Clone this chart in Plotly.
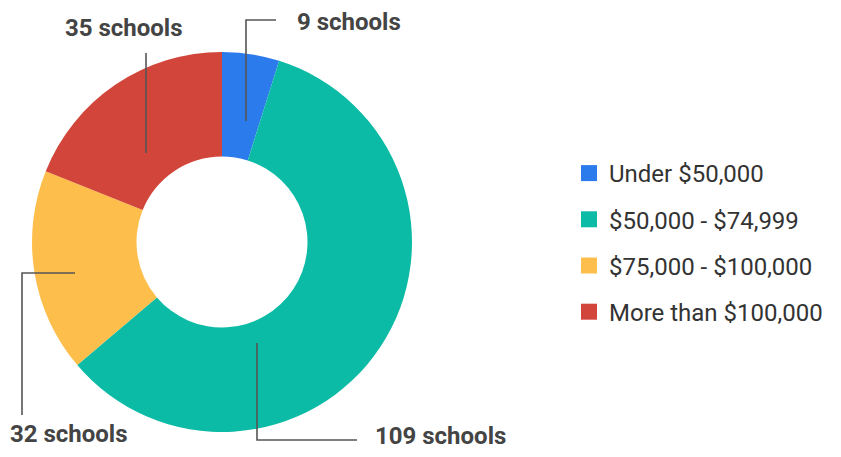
import plotly.graph_objects as go

# ---- data ----
categories = ["Under $50,000", "$50,000 - $74,999", "$75,000 - $100,000", "More than $100,000"]
school_counts = [9, 109, 32, 35]
label_texts = ["9 schools", "109 schools", "32 schools", "35 schools"]
colors = ["#2C7BEC", "#0CBBA5", "#FDBE4C", "#D1453B"]

# page has an 8px body margin; size the figure to fit the 841x457 window
OFF = 8
W, H = 841 - 2 * OFF, 457 - 2 * OFF


def px(x):
    """screen pixel x -> paper"""
    return (x - OFF) / W


def py(y):
    """screen pixel y -> paper"""
    return 1 - (y - OFF) / H


fig = go.Figure()

# donut
cx, cy, r = 222, 242, 190
fig.add_trace(go.Pie(
    labels=categories,
    values=school_counts,
    marker=dict(colors=colors, line=dict(width=0)),
    hole=0.45,
    sort=False,
    direction="clockwise",
    rotation=0,
    textinfo="none",
    showlegend=False,
    domain=dict(x=[px(cx - r), px(cx + r)], y=[py(cy + r), py(cy - r)]),
))

# legend entries (square swatches)
for i, (cat, col) in enumerate(zip(categories, colors)):
    fig.add_trace(go.Scatter(
        x=[None], y=[None], mode="markers", name=cat,
        legendgroup=f"g{i}",
        marker=dict(symbol="square", size=16, color=col),
    ))

# leader lines (pixel polylines) and label placement
leaders = {
    "9 schools": dict(path=[(246, 121), (246, 20), (276, 20)], text=(295, 22), anchor="left"),
    "109 schools": dict(path=[(257, 343), (257, 440), (357, 440)], text=(373, 436), anchor="left"),
    "32 schools": dict(path=[(75, 273), (22, 273), (22, 415)], text=(8, 434), anchor="left"),
    "35 schools": dict(path=[(146, 153), (146, 53)], text=(124, 28), anchor="center"),
}

shapes = []
annotations = []
for lab in label_texts:
    d = leaders[lab]
    pts = d["path"]
    path = "M " + " L ".join(f"{px(x):.5f},{py(y):.5f}" for x, y in pts)
    shapes.append(dict(type="path", xref="paper", yref="paper", path=path,
                       line=dict(color="#555555", width=1.6)))
    tx, ty = d["text"]
    annotations.append(dict(
        x=px(tx), y=py(ty), xref="paper", yref="paper", text=lab,
        showarrow=False, xanchor=d["anchor"], yanchor="middle",
        font=dict(family="Roboto", size=24, color="#444444", weight="bold"),
    ))

fig.update_layout(
    width=W, height=H,
    margin=dict(l=0, r=0, t=0, b=0),
    paper_bgcolor="white", plot_bgcolor="white",
    xaxis=dict(visible=False), yaxis=dict(visible=False),
    shapes=shapes,
    annotations=annotations,
    legend=dict(
        x=px(569), y=py(242.5), xanchor="left", yanchor="middle",
        font=dict(family="Roboto", size=24, color="#333333"),
        tracegroupgap=12, itemclick=False,
        bgcolor="rgba(0,0,0,0)",
    ),
    showlegend=True,
)

fig.write_html("out.html")
